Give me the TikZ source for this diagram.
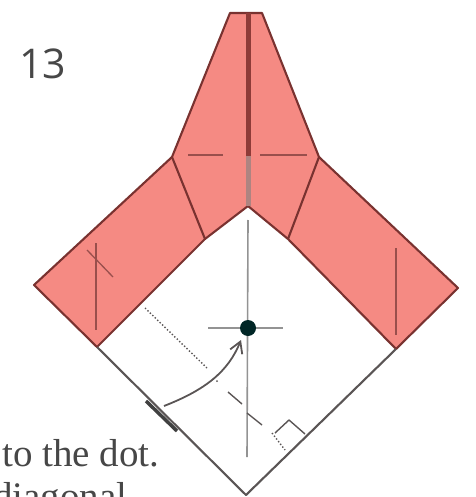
\documentclass[tikz,border=0pt]{standalone}
\usepackage{fontspec}
\setmainfont{Liberation Serif}
\newfontfamily\stepfont{Open Sans}
\usepackage{xcolor}
\usetikzlibrary{arrows.meta, positioning}
\definecolor{paperred}{HTML}{F58A83}
\definecolor{foldred}{HTML}{8E3B38}
\definecolor{edgegray}{HTML}{5A5555}
\begin{document}
\begin{tikzpicture}[x=1pt, y=-1pt, >=Stealth, line join=round,
  edge/.style={draw=edgegray, line width=2.1pt},
  red edge/.style={draw=foldred!85!black, line width=2.1pt},
  crease/.style={draw=foldred!90, line width=1.3pt},
  guide/.style={draw=gray!85, line width=1.6pt},
  caption/.style={font=\fontsize{39}{39}\selectfont, text=black!72, anchor=base west, inner sep=0pt}]
\useasboundingbox (0,0) rectangle (475,497);
\coordinate (topl) at (230,13);
\coordinate (topr) at (262,13);
\coordinate (shl) at (172,157);
\coordinate (shr) at (319,157);
\coordinate (cl) at (34,285);
\coordinate (cr) at (458,288);
\coordinate (bl) at (97,347);
\coordinate (br) at (396,349);
\coordinate (inl) at (205,239);
\coordinate (inr) at (288,239);
\coordinate (notch) at (248,206);
\coordinate (tip) at (246,495);
% paper
\fill[paperred] (topl) -- (topr) -- (shr) -- (cr) -- (br) -- (inr) -- (notch) -- (inl) -- (bl) -- (cl) -- (shl) -- cycle;
\draw[red edge] (topl) -- (shl) -- (cl) -- (bl) -- (inl) -- (notch) -- (inr) -- (br) -- (cr) -- (shr) -- (topr) -- cycle;
\draw[edge] (bl) -- (tip) -- (br);
% folds
\draw[red edge] (shl) -- (inl);
\draw[red edge] (shr) -- (inr);
\draw[draw=foldred, line width=5pt] (248,13) -- (248,156);
\draw[draw=gray!60!paperred, line width=5pt] (248,156) -- (notch);
% creases on the red part
\draw[crease] (188,155) -- (223,155);
\draw[crease] (260,155) -- (307,155);
\draw[crease] (96,243) -- (96,330);
\draw[crease] (396,248) -- (396,335);
\draw[crease] (87,250) -- (113,277);
% dot and its guides
\draw[guide] (248,220) -- (247,457);
\draw[guide] (208,328) -- (283,328);
\node[circle, fill=black!70!teal, minimum size=16pt, inner sep=0pt] (dot) at (248,328) {};
% diagonal
\draw[edgegray, line width=1.4pt, dotted] (145,308) -- (207,368);
\fill[edgegray] (217,381) circle (1pt);
\draw[edgegray, line width=1.4pt] (228,392) -- (242,404);
\draw[edgegray, line width=1.4pt] (247,413) -- (262,425);
\draw[edgegray, line width=1.4pt, dotted] (272,433) -- (285,450);
% right angle
\draw[edgegray, line width=1.4pt] (275,433) -- (289,420) -- (305,434);
% edge mark and arrow
\coordinate (mark a) at (146,401);
\coordinate (mark b) at (177,431);
\draw[draw=black!75, line width=3.5pt] (mark a) -- (mark b);
\coordinate (arrow start) at (164,406);
\draw[edgegray, line width=1.8pt, -{Straight Barb[length=11pt, width=13pt]}] (arrow start) .. controls (205,390) and (228,372) .. (241,340);
% labels
\node[font=\stepfont\fontsize{41}{41}\selectfont, text=black!72, anchor=base west, inner sep=0pt] (step) at (19,79) {13};
\node[caption] (line a) at (2,466) {to the dot.};
\node[caption] (line b) at (-7,509) {diagonal};
\end{tikzpicture}
\end{document}
